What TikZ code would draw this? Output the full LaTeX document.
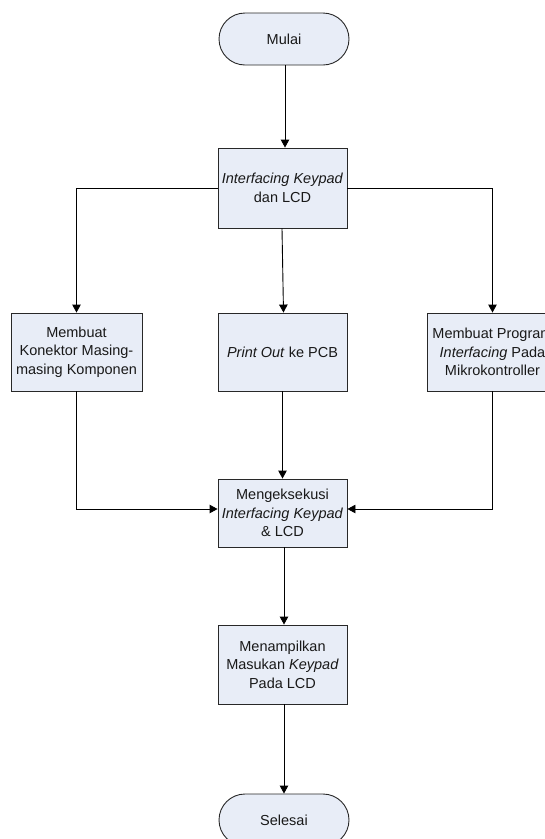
\documentclass[tikz,border=0pt]{standalone}
\usepackage{fontspec}
\setmainfont{Liberation Sans}
\usetikzlibrary{arrows.meta}
\definecolor{boxfill}{RGB}{232,237,247}
\definecolor{edge}{RGB}{40,40,40}
\tikzset{
  x=1pt, y=-1pt,
  every node/.style={font=\fontsize{14.5}{18.5}\selectfont, text=black!90, align=center, inner sep=0pt},
  procbox/.style={draw=edge, fill=boxfill, line width=0.9pt, minimum width=129pt, minimum height=78pt},
  termbox/.style={draw=edge, fill=boxfill, line width=0.9pt, rounded corners=26pt, minimum width=130pt, minimum height=52pt},
  flow/.style={draw=black, line width=0.9pt, -{Triangle[length=8pt,width=8.5pt]}}
}
\begin{document}
\begin{tikzpicture}
\useasboundingbox (0,0) rectangle (545,839);
\clip (0,0) rectangle (545,839);
\node[termbox] (mulai) at (284,39) {Mulai};
\node[procbox, minimum height=80pt] (iface) at (282.5,188) {\textit{Interfacing Keypad}\\dan LCD};
\node[procbox, minimum width=131pt] (kon) at (76.5,352) {Membuat\\Konektor Masing-\\masing Komponen};
\node[procbox] (pcb) at (282.5,352) {\textit{Print Out} ke PCB};
\node[procbox, minimum width=131pt] (prog) at (492.5,352) {Membuat Program\\\textit{Interfacing} Pada\\Mikrokontroller};
\node[procbox, minimum height=68pt] (exec) at (282.5,513) {Mengeksekusi\\\textit{Interfacing Keypad}\\\& LCD};
\node[procbox, minimum height=79pt] (show) at (282.5,664.5) {Menampilkan\\Masukan \textit{Keypad}\\Pada LCD};
\node[termbox] (selesai) at (284,820) {Selesai};

\coordinate (m1) at ([xshift=1pt]mulai.south);
\draw[flow] (m1) -- (m1 |- iface.north);
\draw[flow] (iface.west) -| (kon.north);
\draw[flow] (iface.east) -| (prog.north);
\draw[flow] ([xshift=-0.5pt]iface.south) -- ([xshift=1pt]pcb.north);
\coordinate (ly) at (0,509);
\draw[flow] (kon.south) |- (exec.west |- ly);
\draw[flow] (prog.south) |- (exec.east |- ly);
\draw[flow] (pcb.south) -- (exec.north);
\draw[flow] ([xshift=1.5pt]exec.south) -- ([xshift=1.5pt]show.north);
\draw[flow] ([xshift=1.5pt]show.south) -- ([xshift=1.5pt]show.south |- selesai.north);
\end{tikzpicture}
\end{document}
